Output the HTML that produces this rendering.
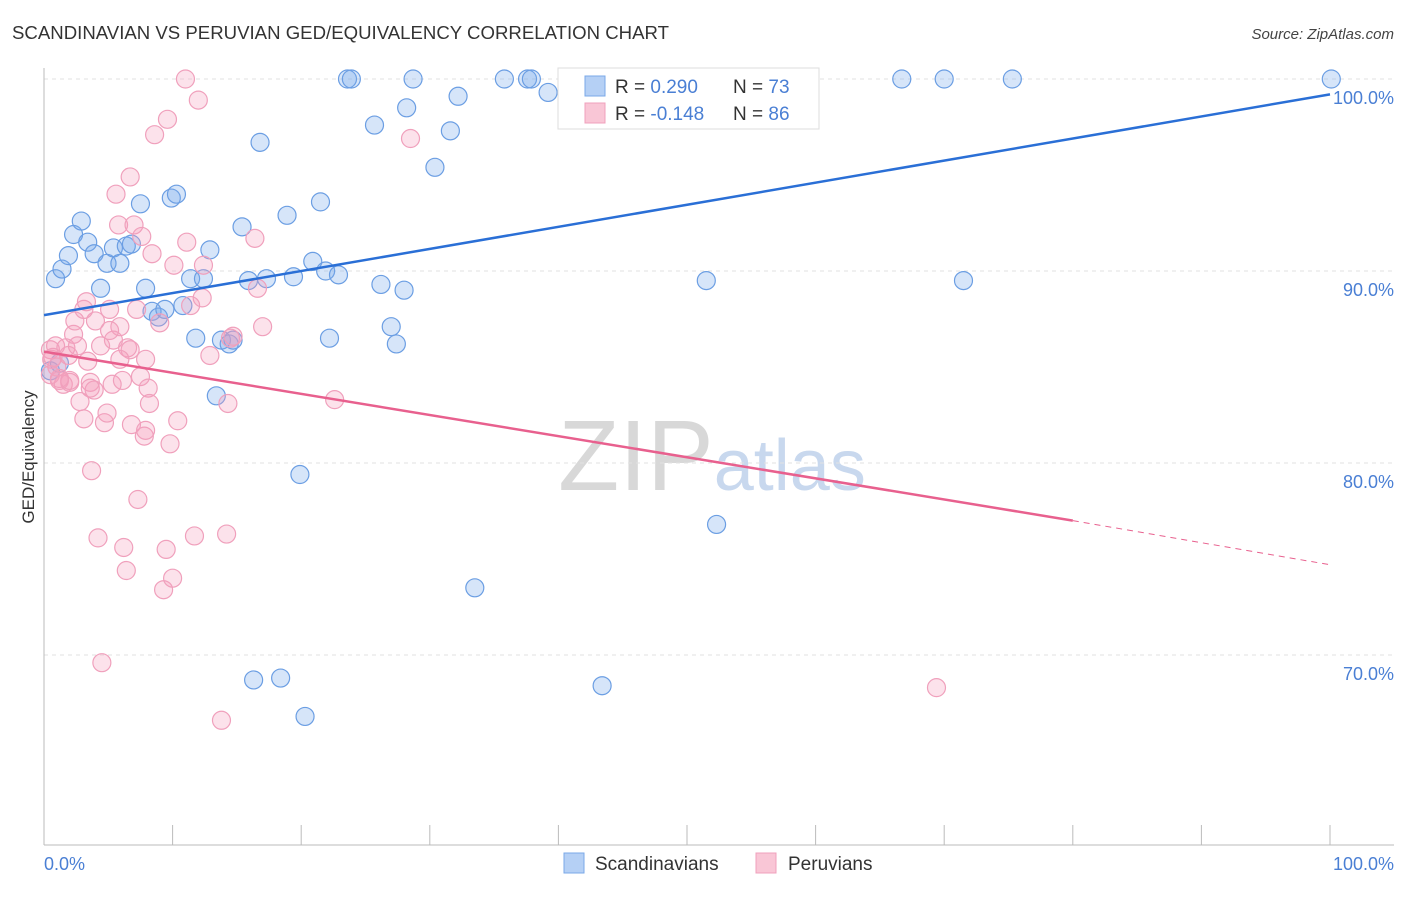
<!DOCTYPE html>
<html><head><meta charset="utf-8">
<style>
body{margin:0;background:#fff;font-family:"Liberation Sans",sans-serif;}
svg text{font-family:"Liberation Sans",sans-serif;}
</style></head>
<body>
<svg id="chart" width="1406" height="892" xmlns="http://www.w3.org/2000/svg">
<text x="12" y="39" font-size="18" fill="#333" textLength="657" lengthAdjust="spacingAndGlyphs">SCANDINAVIAN VS PERUVIAN GED/EQUIVALENCY CORRELATION CHART</text>
<text x="1394" y="39" font-size="15" fill="#444" text-anchor="end" font-style="italic">Source: ZipAtlas.com</text>
<text x="712" y="490" font-size="100" text-anchor="middle" font-family="Liberation Serif" fill="#ddd"><tspan fill="#d8d8d8">ZIP</tspan><tspan fill="#c8d8ee" font-family="Liberation Sans" font-size="72">atlas</tspan></text>
<g id="grid"></g>
<g id="axes"></g>
<g id="blue"></g>
<g id="pink"></g>
<g id="lines"></g>
<g>
<rect x="558" y="68" width="261" height="61" fill="#fff" stroke="#ddd"/>
<rect x="585" y="76" width="20" height="20" fill="#b5d0f5" stroke="#7aa8e8"/>
<rect x="585" y="103" width="20" height="20" fill="#f9c6d6" stroke="#f0a0bc"/>
<text x="615" y="93" font-size="19" fill="#333">R = <tspan fill="#4a7fd4">0.290</tspan></text>
<text x="733" y="93" font-size="19" fill="#333">N = <tspan fill="#4a7fd4">73</tspan></text>
<text x="615" y="120" font-size="19" fill="#333">R = <tspan fill="#4a7fd4">-0.148</tspan></text>
<text x="733" y="120" font-size="19" fill="#333">N = <tspan fill="#4a7fd4">86</tspan></text>
</g>
<g>
<rect x="564" y="853" width="20" height="20" fill="#b5d0f5" stroke="#7aa8e8"/>
<text x="595" y="870" font-size="19" fill="#333">Scandinavians</text>
<rect x="756" y="853" width="20" height="20" fill="#f9c6d6" stroke="#f0a0bc"/>
<text x="788" y="870" font-size="19" fill="#333">Peruvians</text>
</g>
<text transform="translate(34,457) rotate(-90)" font-size="17" fill="#333" text-anchor="middle">GED/Equivalency</text>
</svg>
<script>
const yTicks=[100,90,80,70];
const yTickLabels=["100.0%","90.0%","80.0%","70.0%"];
const xLabels=["0.0%","100.0%"];
const blueX=[0.9,1.4,1.9,2.3,2.9,3.4,3.9,4.4,4.9,5.4,5.9,6.4,6.8,7.5,7.9,8.4,8.9,9.4,9.9,10.3,10.8,11.4,11.8,12.4,12.9,13.4,13.8,14.4,14.7,15.4,15.9,16.3,16.8,17.3,18.4,18.9,19.4,19.9,20.3,20.9,21.5,21.9,22.2,22.9,23.6,23.9,25.7,26.2,27.0,27.4,28.0,28.2,28.7,30.4,31.6,32.2,33.5,35.8,37.6,37.9,39.2,42.1,43.4,47.1,51.5,52.3,66.7,70.0,71.5,75.3,100.1,0.5,1.2];
const blueY=[89.6,90.1,90.8,91.9,92.6,91.5,90.9,89.1,90.4,91.2,90.4,91.3,91.4,93.5,89.1,87.9,87.6,88.0,93.8,94.0,88.2,89.6,86.5,89.6,91.1,83.5,86.4,86.2,86.4,92.3,89.5,68.7,96.7,89.6,68.8,92.9,89.7,79.4,66.8,90.5,93.6,90.0,86.5,89.8,100,100,97.6,89.3,87.1,86.2,89.0,98.5,100,95.4,97.3,99.1,73.5,100,100,100,99.3,100,68.4,100,89.5,76.8,100,100,89.5,100,100,84.8,85.2];
const pinkX=[0.5,0.6,0.9,1.0,1.2,1.5,1.7,2.0,2.3,2.4,2.6,2.8,3.1,3.3,3.4,3.6,3.7,3.9,4.0,4.2,4.4,4.5,4.7,4.9,5.1,5.3,5.4,5.6,5.8,5.9,6.1,6.2,6.4,6.5,6.7,6.8,7.0,7.2,7.3,7.5,7.6,7.8,7.9,8.1,8.2,8.4,8.6,9.0,9.3,9.5,9.6,9.8,10.0,10.1,10.4,11.0,11.1,11.4,11.7,12.0,12.3,12.4,12.9,13.8,14.2,14.3,14.5,14.7,16.4,16.6,17.0,22.6,28.5,69.4,0.5,0.7,2.0,3.6,1.2,1.9,3.1,5.1,6.7,5.9,7.9];
const pinkY=[85.9,85.4,86.1,85.0,84.3,84.1,86.0,84.2,86.7,87.4,86.1,83.2,82.3,88.4,85.3,84.2,79.6,83.8,87.4,76.1,86.1,69.6,82.1,82.6,88.0,84.1,86.4,94.0,92.4,87.1,84.3,75.6,74.4,86.0,94.9,82.0,92.4,88.0,78.1,84.5,91.8,81.4,81.7,83.9,83.1,90.9,97.1,87.3,73.4,75.5,97.9,81.0,74.0,90.3,82.2,100,91.5,88.2,76.2,98.9,88.6,90.3,85.6,66.6,76.3,83.1,86.5,86.6,91.7,89.1,87.1,83.3,96.9,68.3,84.6,85.5,84.3,83.9,84.4,85.6,88.0,86.9,85.9,85.4,85.4];
const blueTrend=[[0,87.7],[100,99.2]];
const pinkTrend=[[0,85.8],[80,77.0],[100,74.7]];
const X=v=>44+v*12.86, Y=v=>79+(100-v)*19.2;
const NS="http://www.w3.org/2000/svg";
function mk(tag,attrs,parent){const e=document.createElementNS(NS,tag);for(const k in attrs)e.setAttribute(k,attrs[k]);parent.appendChild(e);return e;}
const grid=document.getElementById('grid'),axes=document.getElementById('axes');
yTicks.forEach((t,i)=>{
 const l=mk('line',{x1:44,x2:1394,y1:Y(t),y2:Y(t),stroke:'#e2e2e2','stroke-dasharray':'4,4'},grid);
 
 
 const tx=mk('text',{x:1394,y:Y(t)+25,'font-size':18,fill:'#4a7fd4','text-anchor':'end'},axes);
 tx.textContent=yTickLabels[i];
 
 
});
mk('line',{x1:44,x2:44,y1:68,y2:845,stroke:'#bbb'},axes);
mk('line',{x1:44,x2:1394,y1:845,y2:845,stroke:'#bbb'},axes);
for(let i=0;i<=10;i++){const t=mk('line',{x1:X(i*10),x2:X(i*10),y1:825,y2:845,stroke:'#bbb'},axes);
 
 }
[[0,'start',44],[1,'end',1394]].forEach(([i,a,x])=>{const t=mk('text',{x:x,y:870,'font-size':18,fill:'#4a7fd4','text-anchor':a},axes);t.textContent=xLabels[i];
 
 });
function pts(xs,ys,g,fill,stroke,name){xs.forEach((x,i)=>{const c=mk('circle',{cx:X(x),cy:Y(ys[i]),r:9,fill:fill,stroke:stroke,'stroke-width':1.2},g);
 
 });}
pts(blueX,blueY,document.getElementById('blue'),'rgba(120,170,235,0.3)','#6b9ee3','scandinavian-point');
pts(pinkX,pinkY,document.getElementById('pink'),'rgba(245,160,190,0.3)','#f0a0bc','peruvian-point');
const lg=document.getElementById('lines');
const bl=mk('line',{x1:X(blueTrend[0][0]),y1:Y(blueTrend[0][1]),x2:X(blueTrend[1][0]),y2:Y(blueTrend[1][1]),stroke:'#2a6fd6','stroke-width':2.5},lg);


const pl=mk('line',{x1:X(pinkTrend[0][0]),y1:Y(pinkTrend[0][1]),x2:X(pinkTrend[1][0]),y2:Y(pinkTrend[1][1]),stroke:'#e8608e','stroke-width':2.5},lg);


const pd=mk('line',{x1:X(pinkTrend[1][0]),y1:Y(pinkTrend[1][1]),x2:X(pinkTrend[2][0]),y2:Y(pinkTrend[2][1]),stroke:'#e8608e','stroke-width':1,'stroke-dasharray':'6,5'},lg);


</script>
</body></html>
